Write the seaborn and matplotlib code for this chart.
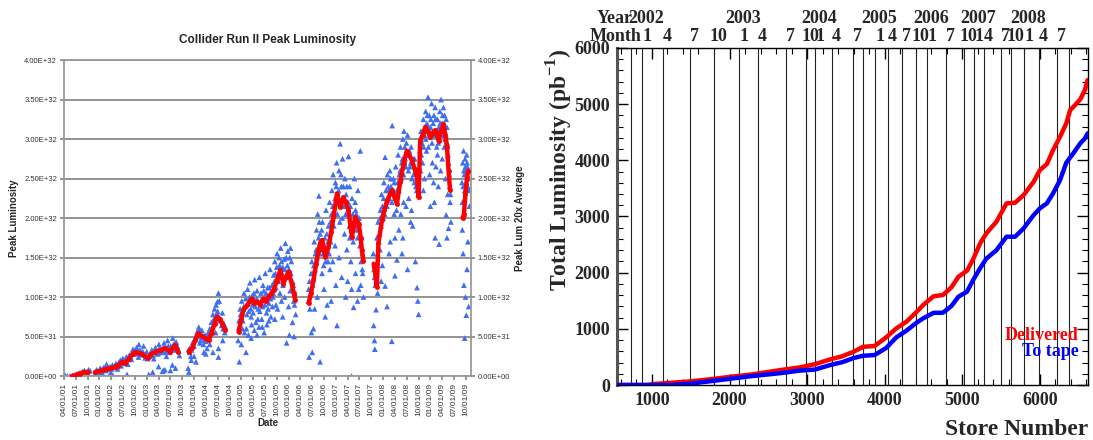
import numpy as np
import pandas as pd
import matplotlib
matplotlib.use("Agg")
import matplotlib.pyplot as plt
from matplotlib.ticker import FuncFormatter, MultipleLocator, FixedLocator
import seaborn as sns

# ---------------------------------------------------------------
# Left panel: store peak luminosity (units of 1e32 cm^-2 s^-1)
# x = months since 2001-04-01
# ---------------------------------------------------------------
peak_2001 = [(0.0, 0.0), (0.3, 0.01), (0.8, 0.0), (1.5, 0.0), (2.2, 0.01), (2.8, 0.02),
             (3.3, 0.03), (3.8, 0.04), (4.2, 0.03), (4.8, 0.06), (5.2, 0.07), (5.7, 0.05),
             (6.2, 0.08), (6.6, 0.07)]
peak_2002_03 = [(7.9, 0.03), (8.3, 0.08), (8.8, 0.06), (9.2, 0.10), (9.7, 0.04), (10.1, 0.11),
                (10.6, 0.07), (11.0, 0.12), (11.4, 0.09), (11.9, 0.05), (12.3, 0.14), (12.7, 0.11),
                (13.2, 0.16), (13.6, 0.09), (14.0, 0.18), (14.5, 0.13), (14.9, 0.22), (15.3, 0.17),
                (15.8, 0.24), (16.2, 0.15), (16.7, 0.27), (17.1, 0.21), (17.5, 0.34), (18.0, 0.28),
                (18.4, 0.36), (18.9, 0.24), (19.3, 0.33), (19.7, 0.30), (20.2, 0.38), (20.6, 0.23),
                (21.0, 0.31), (21.5, 0.02), (21.9, 0.27), (22.3, 0.33), (22.8, 0.22), (23.2, 0.36),
                (23.7, 0.28), (24.1, 0.40), (24.5, 0.30), (25.0, 0.06), (25.4, 0.42), (25.8, 0.35),
                (26.3, 0.45), (26.7, 0.30), (27.1, 0.38), (27.6, 0.48), (28.0, 0.33), (28.5, 0.43),
                (28.9, 0.36), (12.5, 0.0), (16.0, 0.02), (25.2, 0.07), (25.6, 0.08), (27.5, 0.14),
                (28.3, 0.10), (29.3, 0.26), (10.8, 0.15), (19.0, 0.40), (26.0, 0.25),
                (8.0, 0.06), (8.6, 0.05), (9.4, 0.08), (9.9, 0.09), (10.4, 0.10), (11.2, 0.10),
                (11.7, 0.12), (12.1, 0.09), (12.9, 0.13), (13.4, 0.12), (13.9, 0.15), (14.3, 0.20),
                (14.7, 0.16), (15.1, 0.21), (15.6, 0.19), (16.0, 0.23), (16.4, 0.25), (16.9, 0.24),
                (17.3, 0.30), (17.8, 0.32), (18.2, 0.31), (18.7, 0.33), (19.1, 0.29), (19.5, 0.27),
                (20.0, 0.31), (20.4, 0.27), (20.8, 0.26), (21.2, 0.22), (21.7, 0.25), (22.1, 0.30),
                (22.6, 0.26), (23.0, 0.31), (23.5, 0.33), (23.9, 0.29), (24.3, 0.35), (24.8, 0.32),
                (25.3, 0.37), (25.7, 0.30), (26.1, 0.33), (26.5, 0.38), (26.9, 0.34), (27.3, 0.36),
                (27.8, 0.40), (28.2, 0.42), (28.7, 0.38), (29.1, 0.32), (22.5, 0.05), (27.0, 0.07),
                (24.0, 0.12)]
peak_2004 = [(31.5, 0.10), (31.8, 0.35), (32.2, 0.25), (32.6, 0.42), (33.0, 0.38), (33.4, 0.50),
             (33.8, 0.56), (34.2, 0.62), (34.6, 0.45), (35.0, 0.58), (35.4, 0.40), (35.8, 0.52),
             (36.2, 0.47), (36.6, 0.55), (37.0, 0.60), (37.4, 0.68), (37.8, 0.78), (38.2, 0.85),
             (38.6, 0.90), (39.0, 0.82), (39.4, 0.95), (39.8, 0.72), (40.2, 0.80), (40.6, 0.66),
             (41.0, 0.62), (31.7, 0.05), (32.3, 0.20), (33.5, 0.18), (36.3, 0.35), (37.8, 0.30),
             (38.5, 0.55), (39.2, 0.35), (40.3, 0.45), (34.5, 0.42), (35.5, 0.30), (39.2, 1.05),
             (38.9, 0.94), (39.2, 0.24),
             (31.9, 0.30), (32.4, 0.33), (32.8, 0.40), (33.2, 0.47), (33.6, 0.52), (34.0, 0.55),
             (34.4, 0.58), (34.8, 0.50), (35.2, 0.49), (35.6, 0.46), (36.0, 0.44), (36.4, 0.50),
             (36.8, 0.52), (37.2, 0.58), (37.6, 0.62), (38.0, 0.72), (38.4, 0.70), (38.8, 0.80),
             (39.1, 0.76), (39.6, 0.70), (40.0, 0.64), (40.4, 0.60), (40.8, 0.55), (36.0, 0.28),
             (37.0, 0.40), (33.0, 0.25)]
peak_2005 = [(44.2, 0.45), (44.5, 0.62), (44.8, 0.78), (45.1, 0.95), (45.4, 0.70), (45.7, 1.05),
             (46.0, 0.88), (46.3, 0.60), (46.6, 1.10), (46.9, 0.82), (47.2, 1.18), (47.5, 0.75),
             (47.8, 1.02), (48.1, 0.90), (48.4, 1.22), (48.7, 0.68), (49.0, 1.08), (49.3, 0.85),
             (49.6, 1.25), (49.9, 0.95), (50.2, 0.72), (50.5, 1.15), (50.8, 0.98), (51.1, 1.30),
             (51.4, 0.80), (51.7, 1.12), (52.0, 0.92), (52.3, 1.35), (52.6, 1.05), (52.9, 0.88),
             (53.2, 1.28), (53.5, 1.45), (53.8, 1.12), (54.1, 1.55), (54.4, 1.20), (54.7, 1.40),
             (55.0, 1.62), (55.3, 1.30), (55.6, 1.15), (55.9, 1.48), (56.2, 1.68), (56.5, 1.25),
             (56.8, 1.58), (57.1, 1.35), (57.4, 1.08), (57.7, 1.45), (58.0, 1.20), (58.3, 0.95),
             (58.6, 1.05), (44.5, 0.18), (45.0, 0.40), (45.8, 0.55), (46.8, 0.52), (47.5, 0.48),
             (48.3, 0.58), (49.5, 0.62), (50.8, 0.55), (51.5, 0.65), (52.5, 0.75), (53.5, 0.72),
             (54.2, 0.85), (55.5, 0.75), (56.5, 0.42), (57.2, 0.52), (58.0, 0.68), (58.4, 0.50),
             (58.8, 0.78), (46.2, 0.30), (49.0, 0.52), (47.0, 0.95), (48.0, 0.80), (50.0, 1.05),
             (53.0, 1.00), (54.8, 1.05), (56.0, 1.00), (57.5, 1.62),
             (44.4, 0.70), (44.7, 0.85), (45.2, 0.80), (45.6, 0.88), (46.1, 0.98), (46.4, 0.78),
             (46.7, 0.92), (47.1, 1.00), (47.4, 0.85), (47.9, 0.92), (48.2, 1.05), (48.6, 0.88),
             (48.9, 0.98), (49.2, 0.95), (49.7, 0.82), (50.1, 0.92), (50.4, 0.88), (50.7, 1.08),
             (51.0, 0.90), (51.3, 1.05), (51.6, 0.95), (52.1, 1.12), (52.4, 0.98), (52.8, 1.15),
             (53.1, 1.05), (53.4, 1.20), (53.7, 1.30), (54.0, 1.38), (54.3, 1.28), (54.6, 1.50),
             (54.9, 1.25), (55.2, 1.45), (55.5, 1.38), (55.8, 1.25), (56.1, 1.35), (56.4, 1.50),
             (56.7, 1.40), (57.0, 1.25), (57.3, 1.50), (57.6, 1.30), (57.9, 1.10), (58.2, 1.15),
             (58.5, 0.90), (45.3, 0.60), (47.6, 0.65), (50.3, 0.62), (52.0, 0.70), (53.8, 0.90),
             (55.2, 0.95), (57.0, 0.88), (51.8, 0.85), (49.2, 0.72)]
peak_2006 = [(62.0, 0.95), (62.3, 1.20), (62.6, 1.05), (62.9, 1.45), (63.2, 1.30), (63.5, 1.70),
             (63.8, 1.55), (64.1, 1.85), (64.4, 2.05), (64.7, 2.28), (65.0, 1.80), (65.3, 1.60),
             (65.6, 1.95), (65.9, 1.40), (66.2, 1.75), (66.5, 2.10), (66.8, 1.55), (67.1, 1.90),
             (67.4, 2.20), (67.7, 1.70), (68.0, 2.35), (68.3, 2.55), (68.6, 2.05), (68.9, 2.45),
             (69.2, 2.70), (69.5, 2.20), (69.8, 2.60), (70.1, 2.94), (70.4, 2.40), (70.7, 2.75),
             (71.0, 2.15), (71.3, 2.50), (71.6, 2.30), (71.9, 2.05), (72.2, 2.78), (72.5, 2.40),
             (72.8, 1.95), (73.1, 2.25), (73.4, 1.70), (73.7, 2.50), (74.0, 2.10), (74.3, 1.85),
             (74.6, 2.35), (74.9, 2.00), (75.2, 2.85), (75.5, 1.75), (75.8, 1.55), (62.2, 0.24),
             (62.8, 0.55), (63.0, 0.30), (63.6, 0.85), (64.3, 1.00), (65.0, 0.18), (65.5, 1.30),
             (66.0, 1.10), (66.8, 0.90), (67.5, 1.35), (68.2, 1.45), (69.3, 0.64), (69.8, 1.50),
             (70.5, 1.25), (71.2, 1.80), (72.0, 1.20), (72.8, 1.45), (73.5, 0.87), (74.0, 1.30),
             (74.8, 1.10), (75.3, 1.15), (75.8, 1.30), (76.0, 1.00), (68.8, 1.65), (71.8, 1.60),
             (73.0, 0.0), (64.9, 1.55), (67.0, 1.45), (70.0, 1.95), (72.5, 1.75),
             (62.1, 1.10), (62.4, 0.85), (62.7, 1.30), (63.1, 1.15), (63.4, 1.40), (63.7, 1.35),
             (64.0, 1.60), (64.2, 1.50), (64.6, 1.75), (64.8, 1.95), (65.2, 1.70), (65.4, 1.85),
             (65.8, 1.55), (66.1, 1.65), (66.4, 1.45), (66.7, 1.80), (67.0, 1.70), (67.3, 1.55),
             (67.6, 1.95), (67.9, 2.05), (68.2, 2.15), (68.5, 1.90), (68.8, 2.25), (69.1, 2.40),
             (69.4, 2.05), (69.7, 2.35), (70.0, 2.20), (70.3, 2.55), (70.6, 2.00), (70.9, 2.40),
             (71.2, 2.25), (71.5, 2.05), (71.8, 2.40), (72.1, 2.20), (72.4, 1.90), (72.7, 2.15),
             (73.0, 1.85), (73.3, 2.05), (73.6, 1.95), (73.9, 2.20), (74.2, 2.05), (74.5, 1.75),
             (74.8, 1.95), (75.1, 1.65), (75.4, 1.45), (75.7, 1.35), (66.3, 0.75), (69.0, 1.15),
             (71.5, 1.00), (73.0, 1.10), (74.5, 0.95), (63.3, 0.60), (67.8, 0.95)]
peak_2007 = [(78.5, 1.55), (78.8, 1.25), (79.1, 1.40), (79.4, 1.75), (79.7, 1.95), (80.0, 1.80),
             (80.3, 2.10), (80.6, 2.30), (80.9, 2.05), (81.2, 2.45), (81.5, 2.77), (81.8, 2.20),
             (82.1, 2.55), (82.4, 2.35), (82.7, 2.60), (83.0, 2.40), (83.3, 3.17), (83.6, 2.50),
             (83.9, 2.25), (84.2, 2.65), (84.5, 2.35), (84.8, 2.80), (85.1, 2.55), (85.4, 2.90),
             (85.7, 2.70), (86.0, 3.00), (86.3, 3.10), (86.6, 2.75), (86.9, 2.95), (87.2, 3.05),
             (87.5, 2.80), (87.8, 2.65), (88.1, 2.90), (88.4, 2.70), (88.7, 2.55), (89.0, 2.75),
             (89.3, 2.40), (89.6, 2.60), (89.9, 2.30), (78.6, 0.64), (78.8, 0.45), (78.9, 0.34),
             (79.2, 0.84), (79.6, 1.05), (80.2, 1.60), (80.8, 1.40), (81.5, 1.14), (82.0, 0.88),
             (82.5, 1.55), (83.2, 0.44), (84.0, 1.27), (84.5, 1.47), (85.0, 1.85), (85.5, 2.05),
             (86.0, 1.75), (86.8, 2.15), (87.5, 2.25), (88.0, 1.95), (88.5, 1.90), (89.2, 1.45),
             (89.6, 1.12), (89.8, 0.95), (90.0, 0.78), (87.2, 1.35), (81.0, 2.00), (83.8, 2.05),
             (78.7, 1.35), (79.0, 1.15), (79.3, 1.20), (79.6, 1.55), (79.9, 1.70), (80.2, 2.00),
             (80.5, 1.90), (80.8, 2.15), (81.1, 2.25), (81.4, 2.05), (81.7, 2.35), (82.0, 2.15),
             (82.3, 2.40), (82.6, 2.25), (82.9, 2.50), (83.2, 2.20), (83.5, 2.35), (83.8, 2.45),
             (84.1, 2.30), (84.4, 2.10), (84.7, 2.45), (85.0, 2.35), (85.3, 2.60), (85.6, 2.50),
             (85.9, 2.75), (86.2, 2.55), (86.5, 2.90), (86.8, 2.65), (87.1, 2.80), (87.4, 2.60),
             (87.7, 2.85), (88.0, 2.70), (88.3, 2.50), (88.6, 2.75), (88.9, 2.45), (89.2, 2.60),
             (89.5, 2.35), (89.8, 2.45), (82.8, 1.70), (84.0, 1.75), (86.2, 2.20), (88.2, 2.10),
             (80.5, 1.20), (85.8, 1.55)]
peak_2008_09 = [(90.3, 2.85), (90.6, 3.10), (90.9, 2.95), (91.2, 3.25), (91.5, 3.05), (91.8, 3.35),
                (92.1, 3.20), (92.4, 3.53), (92.7, 3.30), (93.0, 3.15), (93.3, 3.45), (93.6, 3.10),
                (93.9, 3.30), (94.2, 3.40), (94.5, 3.05), (94.8, 3.25), (95.1, 3.15), (95.4, 3.35),
                (95.7, 3.50), (96.0, 3.20), (96.3, 3.40), (96.6, 3.30), (96.9, 3.05), (97.2, 3.15),
                (97.5, 2.80), (97.8, 2.55), (90.5, 2.60), (91.0, 2.70), (91.5, 2.50), (92.0, 2.85),
                (92.5, 2.90), (93.0, 2.15), (93.5, 2.70), (94.0, 2.20), (94.2, 1.75), (94.8, 2.80),
                (95.2, 1.67), (95.6, 2.60), (96.0, 2.75), (96.5, 2.90), (97.0, 2.04), (97.2, 1.75),
                (97.6, 1.87), (98.0, 2.20), (98.2, 1.95), (93.8, 2.45), (91.8, 3.00), (95.0, 2.95),
                (90.4, 2.95), (90.7, 2.80), (91.0, 3.05), (91.3, 2.90), (91.6, 3.15), (91.9, 3.10),
                (92.2, 3.30), (92.5, 3.15), (92.8, 3.05), (93.1, 3.25), (93.4, 2.95), (93.7, 3.20),
                (94.0, 3.05), (94.3, 3.25), (94.6, 2.90), (94.9, 3.10), (95.2, 3.00), (95.5, 3.20),
                (95.8, 3.05), (96.1, 3.30), (96.4, 3.15), (96.7, 3.00), (97.0, 3.25), (97.3, 2.95),
                (97.6, 2.70), (97.9, 2.40), (98.1, 2.30), (92.8, 2.55), (95.0, 2.40), (96.8, 2.50),
                (91.2, 2.35), (94.4, 2.65), (97.4, 2.30)]
peak_late_09 = [(101.0, 2.45), (101.2, 2.70), (101.4, 2.85), (101.6, 2.55), (101.8, 2.75),
                (102.0, 2.60), (102.2, 2.80), (102.4, 2.65), (102.6, 2.50), (102.8, 2.35),
                (101.1, 1.85), (101.3, 1.55), (101.5, 1.15), (101.7, 0.48), (101.9, 1.00),
                (102.1, 0.77), (102.3, 1.35), (102.5, 1.70), (102.7, 0.88), (101.6, 2.05),
                (101.1, 2.20), (101.3, 2.40), (101.5, 2.60), (101.7, 2.35), (101.9, 2.65),
                (102.1, 2.45), (102.3, 2.70), (102.5, 2.40), (102.7, 2.60), (102.9, 2.15)]

# 20-store running average of the peak luminosity
avg_2001 = [(2.0, 0.0), (3.0, 0.01), (4.0, 0.03), (5.0, 0.05), (6.0, 0.05)]
avg_2002_03 = [(7.9, 0.05), (9.0, 0.06), (10.0, 0.08), (11.0, 0.09), (12.0, 0.10), (13.0, 0.12),
               (13.7, 0.13), (14.7, 0.18), (15.5, 0.16), (16.5, 0.22), (17.5, 0.28), (18.0, 0.30),
               (19.0, 0.29), (19.8, 0.28), (20.5, 0.25), (21.3, 0.23), (22.2, 0.28), (23.1, 0.30),
               (24.5, 0.33), (25.7, 0.35), (26.9, 0.31), (28.2, 0.39), (29.0, 0.30)]
avg_2004 = [(31.6, 0.31), (32.5, 0.35), (33.3, 0.45), (34.1, 0.54), (35.0, 0.51), (35.8, 0.48),
            (36.7, 0.45), (37.5, 0.55), (38.2, 0.66), (38.8, 0.75), (39.5, 0.72), (40.1, 0.67),
            (40.9, 0.58)]
avg_2005 = [(44.3, 0.56), (45.0, 0.72), (45.5, 0.83), (46.5, 0.90), (47.7, 0.98), (48.3, 0.92),
            (48.9, 0.94), (49.8, 0.90), (50.6, 0.98), (51.2, 0.95), (51.9, 1.00), (52.5, 1.04),
            (53.2, 1.09), (54.0, 1.20), (54.9, 1.34), (55.7, 1.17), (56.3, 1.25), (57.0, 1.32),
            (57.8, 1.17), (58.3, 1.05), (58.7, 0.96)]
avg_2006 = [(62.1, 0.92), (62.7, 1.05), (63.3, 1.21), (64.0, 1.42), (64.6, 1.59), (65.0, 1.68),
            (65.5, 1.72), (66.3, 1.51), (67.1, 1.63), (67.8, 1.82), (68.4, 2.01), (69.3, 2.31),
            (70.1, 2.14), (70.9, 2.26), (71.5, 2.20), (72.2, 2.10), (72.7, 1.90), (73.1, 1.76),
            (73.5, 1.90), (73.9, 2.01), (74.8, 1.93), (75.3, 1.75), (75.6, 1.59), (76.0, 1.46)]
avg_2007_09 = [(78.6, 1.42), (79.0, 1.30), (79.4, 1.13), (79.8, 1.68), (80.7, 1.97), (81.3, 2.10),
               (82.0, 2.22), (83.2, 2.35), (84.5, 2.18), (85.3, 2.45), (86.2, 2.69), (87.0, 2.85),
               (87.6, 2.80), (88.3, 2.73), (89.0, 2.62), (89.6, 2.52), (90.0, 2.26), (90.4, 2.98),
               (91.0, 3.05), (91.7, 3.15), (92.3, 3.10), (93.0, 3.02), (93.6, 3.08), (94.2, 3.11),
               (94.7, 3.05), (95.1, 2.98), (95.7, 3.10), (96.3, 3.19), (96.8, 3.05), (97.2, 2.90),
               (97.6, 2.60), (98.0, 2.35)]
avg_late_09 = [(101.2, 2.00), (101.5, 2.05), (101.9, 2.31), (102.3, 2.52), (102.6, 2.60)]

left_yticks = [0.0, 0.5, 1.0, 1.5, 2.0, 2.5, 3.0, 3.5, 4.0]

# ---------------------------------------------------------------
# Right panel: integrated luminosity vs store number
# ---------------------------------------------------------------
store = [550, 950, 1000, 1250, 1500, 1800, 2000, 2300, 2650, 2900, 3100, 3300, 3450, 3600,
         3720, 3870, 4020, 4150, 4280, 4410, 4500, 4630, 4750, 4860, 4950, 5060, 5140, 5230,
         5310, 5440, 5570, 5680, 5790, 5920, 6000, 6090, 6170, 6260, 6340, 6390, 6430, 6520,
         6580, 6615]
delivered = [0, 0, 15, 40, 65, 110, 145, 190, 265, 312, 370, 457, 510, 593,
             680, 694, 849, 1009, 1127, 1300, 1430, 1580, 1602, 1739, 1928, 2035, 2240, 2522,
             2700, 2907, 3234, 3245, 3382, 3619, 3827, 3934, 4183, 4420, 4658, 4895, 4950, 5085,
             5251, 5430]
to_tape = [0, 0, 0, 0, 25, 75, 110, 160, 210, 255, 275, 356, 405, 480,
           520, 534, 660, 849, 967, 1109, 1190, 1285, 1287, 1406, 1572, 1661, 1869, 2080,
           2250, 2400, 2640, 2640, 2789, 3026, 3145, 3234, 3412, 3649, 3957, 4050, 4124, 4302,
           4390, 4480]

# first store of each quarter (Oct 2001 ... Oct 2008) and its month number
quarter_store = [729, 871, 1142, 1490, 1799, 2121, 2366, 2727, 2985, 3101, 3320, 3590, 3719,
                 3874, 4041, 4222, 4402, 4544, 4789, 5021, 5150, 5279, 5498, 5626, 5794, 5987,
                 6219, 6374]
quarter_month = ["", "1", "4", "7", "10", "1", "4", "7", "10", "1", "4", "7", "",
                 "1", "4", "7", "10", "1", "7", "10", "1", "4", "7", "10", "1", "4",
                 "7", ""]
year_names = ["2002", "2003", "2004", "2005", "2006", "2007", "2008"]
year_first_store = [871, 2121, 3101, 3874, 4544, 5150, 5794]

# ---------------------------------------------------------------
sns.set_theme(style="white")
plt.rcParams["font.family"] = ["Liberation Sans", "DejaVu Sans"]
plt.rcParams["mathtext.fontset"] = "custom"
plt.rcParams["mathtext.rm"] = "Liberation Serif"
plt.rcParams["mathtext.bf"] = "Liberation Serif:bold"

fig = plt.figure(figsize=(10.93, 4.40), dpi=100)
axL = fig.add_axes([64 / 1093, 64 / 440, 407 / 1093, 316 / 440])
axR = fig.add_axes([617 / 1093, 55 / 440, 471 / 1093, 337 / 440])

# ---- left panel ----
peak = pd.DataFrame(peak_2001 + peak_2002_03 + peak_2004 + peak_2005 + peak_2006
                    + peak_2007 + peak_2008_09 + peak_late_09, columns=["month", "lum"])
peak["lum"] = peak["lum"] * 1e32
avg = pd.DataFrame(avg_2001 + avg_2002_03 + avg_2004 + avg_2005 + avg_2006
                   + avg_2007_09 + avg_late_09, columns=["month", "lum"])
avg["lum"] = avg["lum"] * 1e32
avg["run"] = (avg["month"].diff() > 1.7).cumsum()

axL.set_axisbelow(True)
axL.yaxis.grid(True, color="#8a8a8a", lw=1.3)
sns.scatterplot(data=peak, x="month", y="lum", marker="^", s=17, color="#3f6ff0",
                edgecolor="none", linewidth=0, ax=axL, zorder=2, legend=False)
sns.lineplot(data=avg, x="month", y="lum", units="run", estimator=None, sort=False,
             color="#ff0000", lw=3.2, marker="o", markersize=3.5, markeredgewidth=0,
             ax=axL, zorder=3, legend=False)

tick_dates = pd.date_range("2001-04-01", "2009-10-01", freq="3MS")
tick_pos = [(d.year - 2001) * 12 + d.month - 4 for d in tick_dates]
axL.set_xlim(0, 103.3)
axL.set_ylim(0, 4.0e32)
axL.xaxis.set_major_locator(FixedLocator(tick_pos))
axL.set_xticklabels([d.strftime("%m/%d/%y") for d in tick_dates], rotation=90, fontsize=6,
                    color="#333333")
axL.yaxis.set_major_locator(FixedLocator([v * 1e32 for v in left_yticks]))
sci = FuncFormatter(lambda v, p: f"{v:.2E}")
axL.yaxis.set_major_formatter(sci)
axL.tick_params(axis="y", labelsize=5.5, labelcolor="#333333", length=3, color="#8a8a8a",
                left=True, pad=2)
axL.tick_params(axis="x", length=3, color="#8a8a8a", bottom=True, pad=2)
for side in ["left", "right", "bottom", "top"]:
    axL.spines[side].set_color("#9a9a9a")
    axL.spines[side].set_linewidth(1.3)
axL.set_xlabel("Date", fontsize=7, fontweight="bold", labelpad=1)
axL.set_ylabel("Peak Luminosity", fontsize=7, fontweight="bold", labelpad=4)
axL.set_title("Collider Run II Peak Luminosity", fontsize=8.5, fontweight="bold", pad=12)

axL2 = axL.twinx()
axL2.set_ylim(0, 4.0e32)
axL2.yaxis.set_major_locator(FixedLocator([v * 1e32 for v in left_yticks]))
axL2.yaxis.set_major_formatter(sci)
axL2.tick_params(axis="y", labelsize=5.5, labelcolor="#333333", length=3, color="#8a8a8a",
                 right=True, pad=2)
axL2.set_ylabel("Peak Lum 20x Average", fontsize=7, fontweight="bold", labelpad=3)
axL2.grid(False)
for side in ["left", "right", "bottom", "top"]:
    axL2.spines[side].set_visible(False)

# ---- right panel ----
serif = ["Liberation Serif", "DejaVu Serif"]
lum = pd.DataFrame({"store": store, "Delivered": delivered, "To tape": to_tape})
for q in quarter_store:
    axR.axvline(q, color="#222222", lw=0.8, zorder=1)
sns.lineplot(data=lum, x="store", y="Delivered", color="#ff0000", lw=3.2, ax=axR, zorder=3)
sns.lineplot(data=lum, x="store", y="To tape", color="#0000ff", lw=3.2, ax=axR, zorder=4)

axR.set_xlim(550, 6620)
axR.set_ylim(0, 6000)
axR.xaxis.set_major_locator(MultipleLocator(1000))
axR.xaxis.set_minor_locator(MultipleLocator(200))
axR.yaxis.set_major_locator(MultipleLocator(1000))
axR.yaxis.set_minor_locator(MultipleLocator(200))
axR.tick_params(which="both", direction="in", top=True, right=True, bottom=True, left=True,
                color="black")
axR.tick_params(which="major", length=8, width=1.0, labelsize=13, pad=5)
axR.tick_params(which="minor", length=4, width=0.8)
for lab in axR.get_xticklabels() + axR.get_yticklabels():
    lab.set_family(serif)
    lab.set_fontweight("bold")
for side in ["right", "bottom", "top"]:
    axR.spines[side].set_color("black")
    axR.spines[side].set_linewidth(1.0)
axR.spines["left"].set_color("#555555")
axR.spines["left"].set_linewidth(2.2)

axR.set_xlabel("Store Number", family=serif, fontweight="bold", fontsize=17, ha="right")
axR.xaxis.set_label_coords(1.0, -0.10)
axR.set_ylabel("Total Luminosity (pb$^{\\mathbf{-1}}$)", family=serif, fontweight="bold",
               fontsize=17)
axR.yaxis.set_label_coords(-0.09, 0.64)

axR.text(0.98, 0.148, "Delivered", transform=axR.transAxes, ha="right", va="center",
         color="#ff0000", family=serif, fontweight="bold", fontsize=13)
axR.text(0.98, 0.098, "To tape", transform=axR.transAxes, ha="right", va="center",
         color="#0000ff", family=serif, fontweight="bold", fontsize=13)

top = axR.get_xaxis_transform()
axR.text(0.034, 1.089, "Year", transform=axR.transAxes, ha="right", va="center",
         family=serif, fontweight="bold", fontsize=13)
axR.text(0.051, 1.033, "Month", transform=axR.transAxes, ha="right", va="center",
         family=serif, fontweight="bold", fontsize=13)
for q, m in zip(quarter_store, quarter_month):
    if m:
        axR.text(q + 60, 1.033, m, transform=top, ha="center", va="center",
                 family=serif, fontweight="bold", fontsize=13)
for q, y in zip(year_first_store, year_names):
    axR.text(q + 60, 1.089, y, transform=top, ha="center", va="center",
             family=serif, fontweight="bold", fontsize=13)

fig.savefig("out.png", dpi=100)
